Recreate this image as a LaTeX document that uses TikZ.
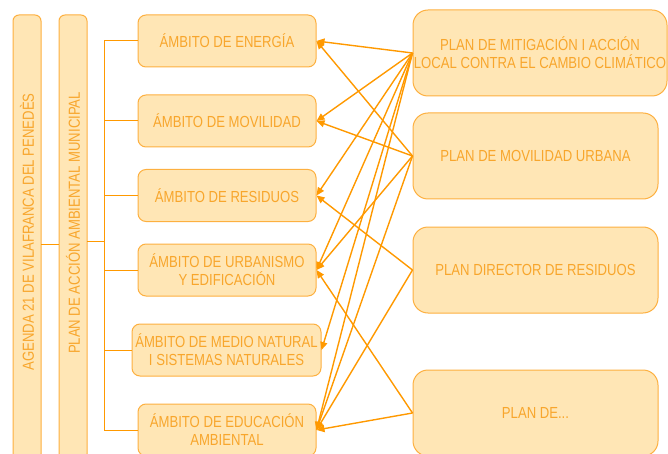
\documentclass[tikz,border=0pt]{standalone}
\usepackage{fontspec}
\setmainfont{Liberation Sans}[FakeStretch=0.82]
\usetikzlibrary{arrows.meta}
\definecolor{boxfill}{HTML}{FFE6B5}
\definecolor{boxline}{HTML}{FDB040}
\definecolor{txt}{HTML}{F8A62C}
\definecolor{wire}{HTML}{FF9900}
\begin{document}
\begin{tikzpicture}[x=1pt,y=-1pt,
  box/.style={draw=boxline, fill=boxfill, line width=1pt, text=txt, align=center, inner sep=0pt, font=\fontsize{16}{18}\selectfont},
  amb/.style={box, rounded corners=8pt, minimum width=178pt, minimum height=52pt},
  planbox/.style={box, rounded corners=15pt, minimum width=245pt, minimum height=86pt},
  tall/.style={box, rounded corners=6pt, minimum width=28pt, minimum height=445pt},
  vtext/.style={rotate=90, text=txt, inner sep=0pt, font=\fontsize{16}{18}\selectfont},
  tree/.style={draw=wire, line width=1pt},
  arr/.style={draw=wire, line width=1.4pt, -{Triangle[length=8pt,width=7pt]}}]
\useasboundingbox (0,0) rectangle (668,454);

% tall boxes
\node[tall] (agbox) at (27,237.5) {};
\node[vtext] (agtxt) at (27,232) {AGENDA 21 DE VILAFRANCA DEL PENEDÈS};
\node[tall] (plbox) at (73,237.5) {};
\node[vtext] (pltxt) at (73,223) {PLAN DE ACCIÓN AMBIENTAL MUNICIPAL};

% ambitos
\node[amb] (ener) at (227,41) {ÁMBITO DE ENERGÍA};
\node[amb] (movi) at (227,121) {ÁMBITO DE MOVILIDAD};
\node[amb] (resi) at (227,195.5) {ÁMBITO DE RESIDUOS};
\node[amb] (urba) at (227,270) {ÁMBITO DE URBANISMO\\Y EDIFICACIÓN};
\node[amb, minimum width=189pt] (medio) at (226.5,350) {ÁMBITO DE MEDIO NATURAL\\I SISTEMAS NATURALES};
\node[amb] (edu) at (227,430) {ÁMBITO DE EDUCACIÓN\\AMBIENTAL};

% plans
\node[planbox, minimum width=254pt] (mit) at (540,53) {PLAN DE MITIGACIÓN I ACCIÓN\\LOCAL CONTRA EL CAMBIO CLIMÁTICO};
\node[planbox] (pmov) at (535.5,156) {PLAN DE MOVILIDAD URBANA};
\node[planbox] (dir) at (535.5,270) {PLAN DIRECTOR DE RESIDUOS};
\node[planbox] (pde) at (535.5,413) {PLAN DE...};

% tree
\coordinate (a1) at (41,244);
\coordinate (a2) at (59,244);
\coordinate (p1) at (87,241);
\coordinate (bus) at (104,241);
\coordinate (bustop) at (104,41);
\coordinate (busbot) at (104,430);
\draw[tree] (a1) -- (a2);
\draw[tree] (p1) -- (bus);
\draw[tree] (bustop) -- (busbot);
\foreach \t in {ener,movi,resi,urba,medio,edu}
  \draw[tree] (\t.west -| bus) -- (\t.west);

% arrows
\foreach \t in {ener,movi,resi,urba,medio,edu}
  \draw[arr] (mit.west) -- (\t.east);
\foreach \t in {ener,movi,urba,edu}
  \draw[arr] (pmov.west) -- (\t.east);
\foreach \t in {resi,edu}
  \draw[arr] (dir.west) -- (\t.east);
\foreach \t in {urba,edu}
  \draw[arr] (pde.west) -- (\t.east);
\end{tikzpicture}
\end{document}
